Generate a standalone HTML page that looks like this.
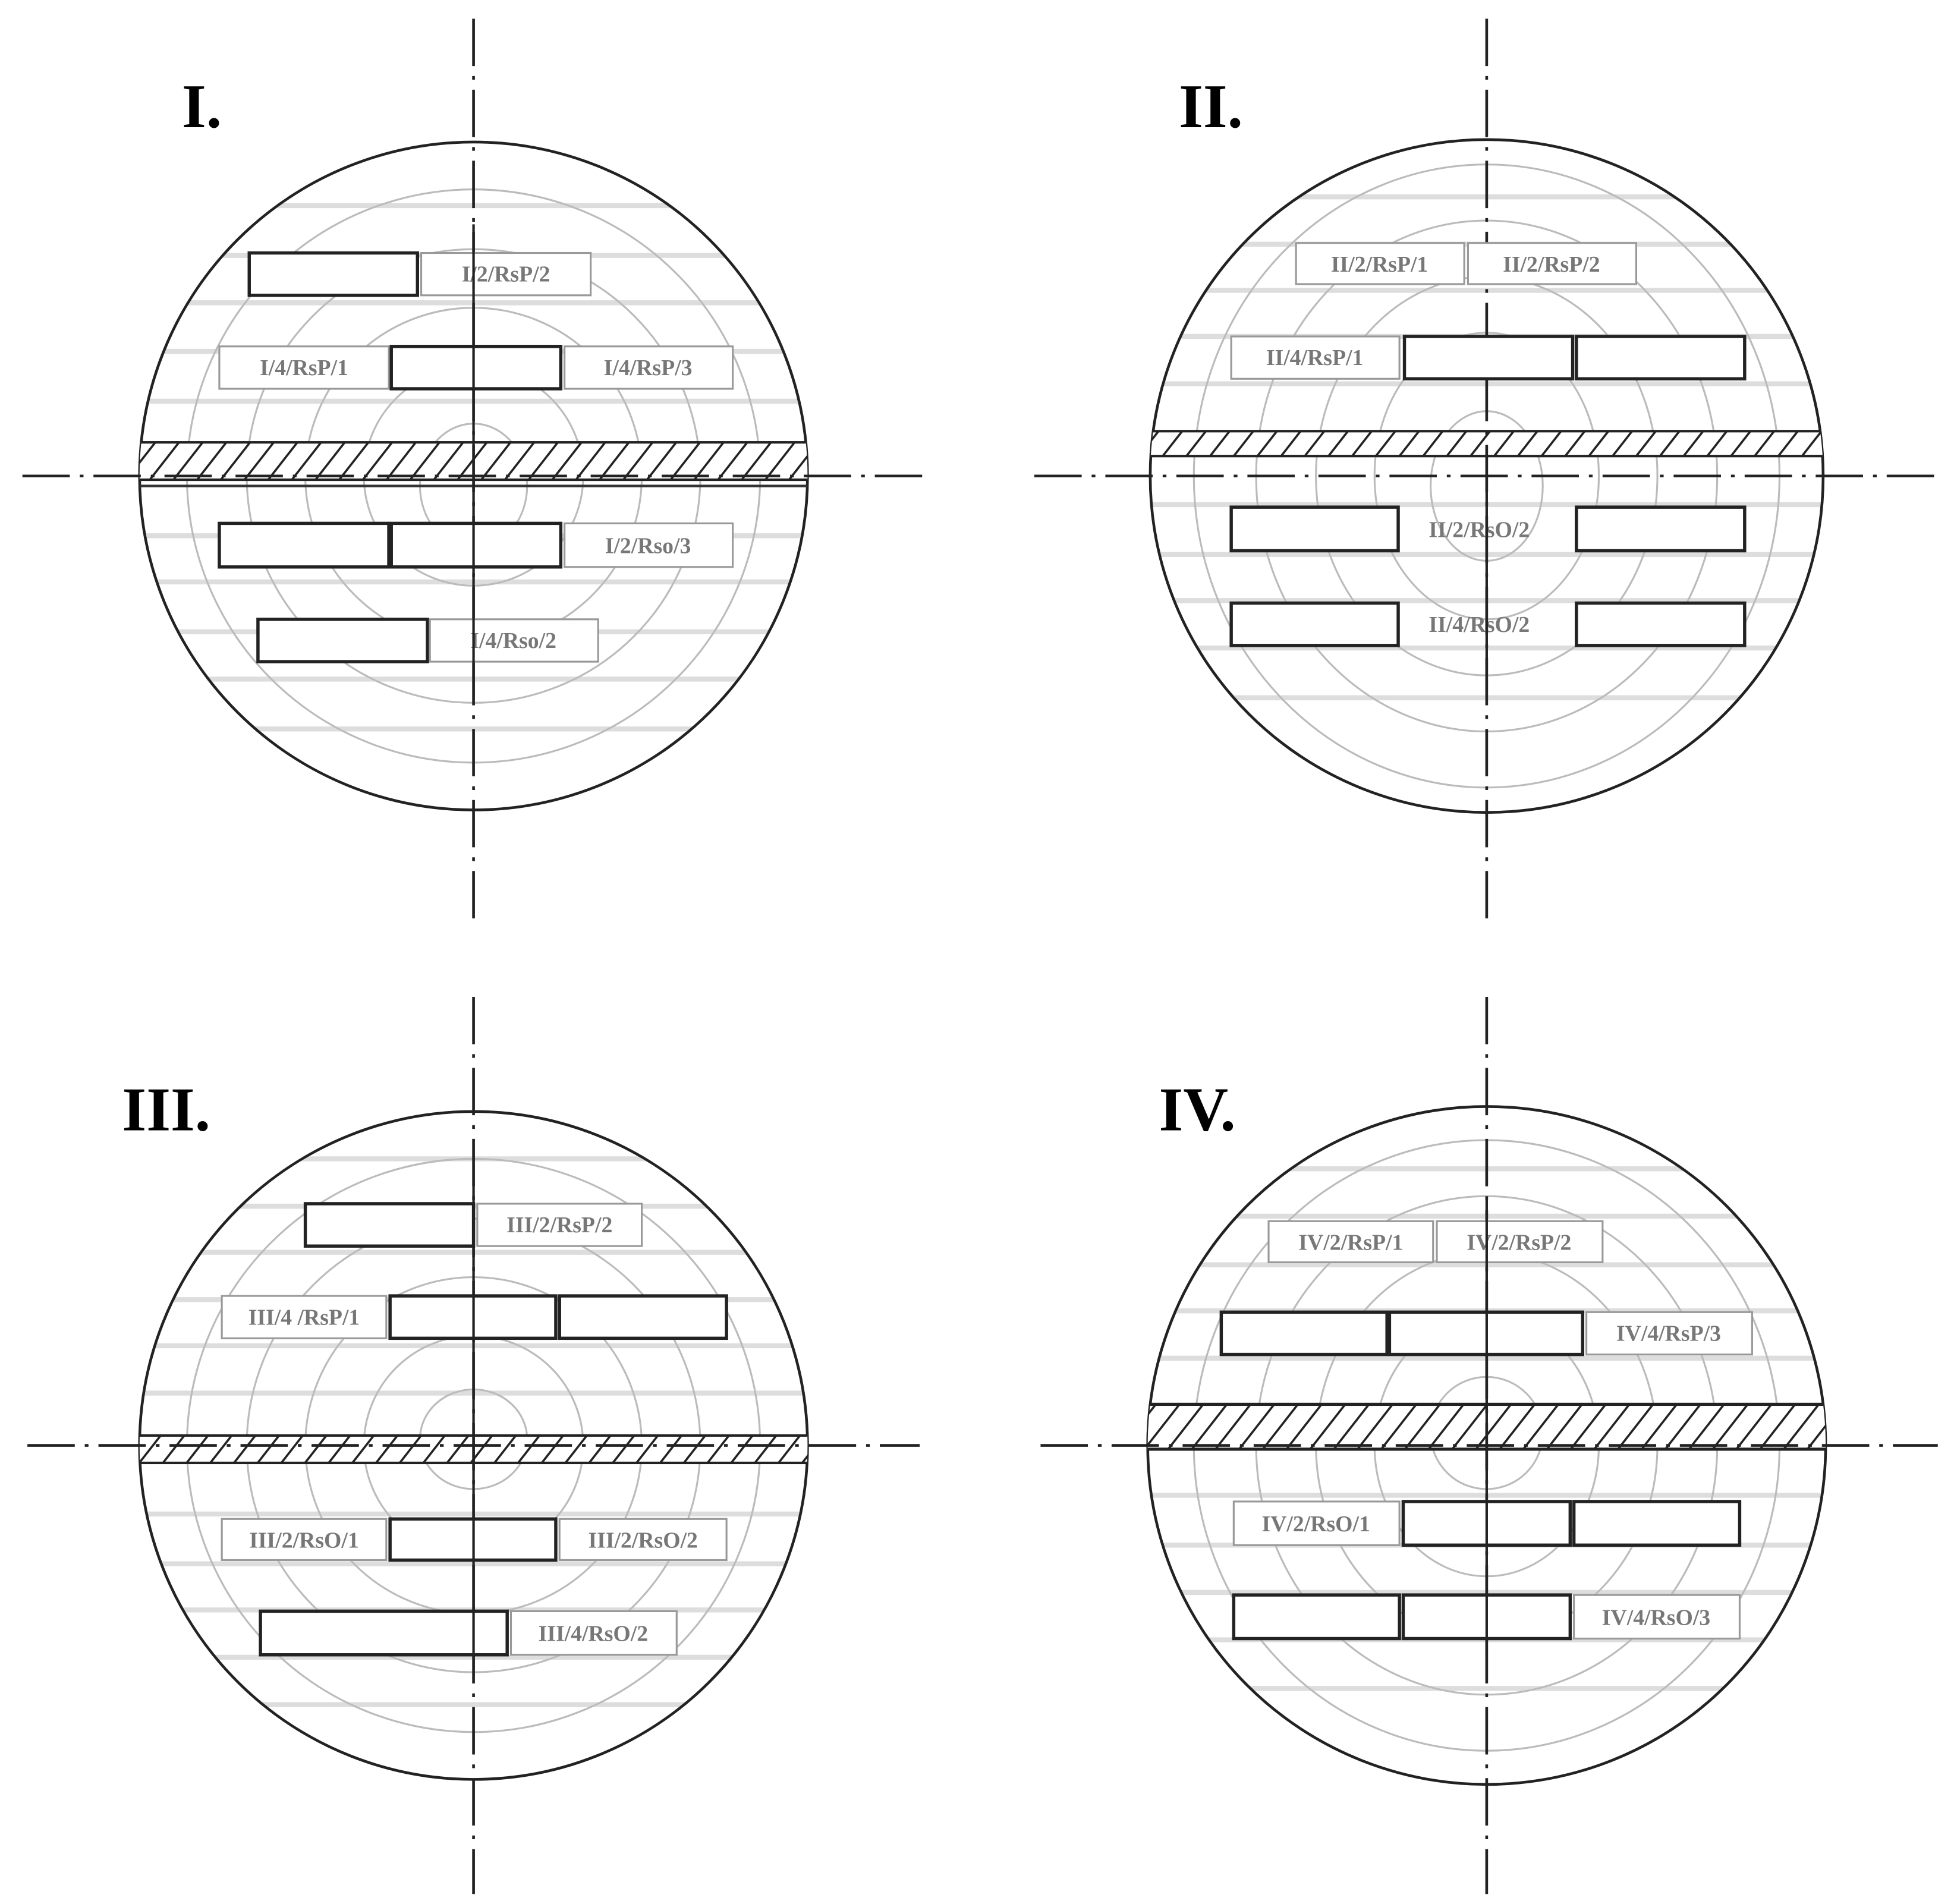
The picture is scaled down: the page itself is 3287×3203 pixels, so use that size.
<!DOCTYPE html>
<html><head><meta charset="utf-8"><style>html,body{margin:0;padding:0;background:#fff}svg{display:block}</style></head>
<body>
<svg width="3287" height="3203" viewBox="0 0 1568 1528" preserveAspectRatio="none" xmlns="http://www.w3.org/2000/svg">
<defs>
<pattern id="h" width="19" height="40" patternUnits="userSpaceOnUse" patternTransform="skewX(-38)">
<rect width="19" height="40" fill="#fff"/><line x1="3" y1="0" x2="3" y2="40" stroke="#222" stroke-width="2.2"/>
</pattern>
<clipPath id="c1"><circle cx="380" cy="382" r="268"/></clipPath>
<clipPath id="c2"><circle cx="1193" cy="382" r="270"/></clipPath>
<clipPath id="c3"><circle cx="380" cy="1160" r="268"/></clipPath>
<clipPath id="c4"><circle cx="1193" cy="1160" r="272"/></clipPath>
</defs>
<style>
.ax{stroke:#222;stroke-width:2.2;stroke-dasharray:38 8 3 8;fill:none}
.st{stroke:#ddd;stroke-width:4}
.rg{fill:none;stroke:#bbb;stroke-width:1.5}
.bk{fill:#fff;stroke:#222;stroke-width:2.6}
.lb{fill:#fff;stroke:#999;stroke-width:1.5}
.t{font-family:"Liberation Serif",serif;font-weight:bold;font-size:18px;fill:#777;text-anchor:middle}
.T{font-family:"Liberation Serif",serif;font-weight:bold;font-size:50px;fill:#000}
.oc{fill:none;stroke:#222;stroke-width:2.2}
</style>

<!-- Quadrant I -->
<g>
<g clip-path="url(#c1)">
<g class="st"><line x1="100" x2="660" y1="165" y2="165"/><line x1="100" x2="660" y1="205" y2="205"/><line x1="100" x2="660" y1="243" y2="243"/><line x1="100" x2="660" y1="282" y2="282"/><line x1="100" x2="660" y1="322" y2="322"/><line x1="100" x2="660" y1="430" y2="430"/><line x1="100" x2="660" y1="467" y2="467"/><line x1="100" x2="660" y1="507" y2="507"/><line x1="100" x2="660" y1="545" y2="545"/><line x1="100" x2="660" y1="585" y2="585"/></g>
</g>
<circle class="rg" cx="380" cy="382" r="230"/><circle class="rg" cx="380" cy="382" r="182"/><circle class="rg" cx="380" cy="382" r="135"/><circle class="rg" cx="380" cy="382" r="88"/><ellipse class="rg" cx="380" cy="390" rx="43" ry="50"/>
<circle class="oc" cx="380" cy="382" r="268"/>
<g clip-path="url(#c1)"><rect x="100" y="355" width="570" height="30" fill="url(#h)" stroke="#222" stroke-width="2"/><line x1="100" x2="670" y1="390" y2="390" stroke="#333" stroke-width="2"/></g>
<line class="ax" x1="380" y1="15" x2="380" y2="745"/><line class="ax" x1="18" y1="382" x2="748" y2="382"/>
<text class="T" x="146" y="102">I.</text>
<rect class="bk" x="200" y="203" width="135" height="34"/><rect class="lb" x="338" y="203" width="136" height="34"/><text class="t" x="406" y="226">I/2/RsP/2</text>
<rect class="lb" x="176" y="278" width="136" height="34"/><text class="t" x="244" y="301">I/4/RsP/1</text><rect class="bk" x="314" y="278" width="136" height="34"/><rect class="lb" x="453" y="278" width="135" height="34"/><text class="t" x="520" y="301">I/4/RsP/3</text>
<rect class="bk" x="176" y="420" width="136" height="35"/><rect class="bk" x="314" y="420" width="136" height="35"/><rect class="lb" x="453" y="420" width="135" height="35"/><text class="t" x="520" y="444">I/2/Rso/3</text>
<rect class="bk" x="207" y="497" width="136" height="34"/><rect class="lb" x="345" y="497" width="135" height="34"/><text class="t" x="412" y="520">I/4/Rso/2</text>
<line x1="380" y1="180" x2="380" y2="560" stroke="#222" stroke-width="2"/>
</g>

<!-- Quadrant II -->
<g>
<g clip-path="url(#c2)" class="st"><line x1="900" x2="1480" y1="158" y2="158"/><line x1="900" x2="1480" y1="196" y2="196"/><line x1="900" x2="1480" y1="233" y2="233"/><line x1="900" x2="1480" y1="270" y2="270"/><line x1="900" x2="1480" y1="308" y2="308"/><line x1="900" x2="1480" y1="405" y2="405"/><line x1="900" x2="1480" y1="445" y2="445"/><line x1="900" x2="1480" y1="482" y2="482"/><line x1="900" x2="1480" y1="520" y2="520"/><line x1="900" x2="1480" y1="560" y2="560"/></g>
<ellipse class="rg" cx="1193" cy="382" rx="235" ry="250"/><ellipse class="rg" cx="1193" cy="382" rx="185" ry="205"/><ellipse class="rg" cx="1193" cy="382" rx="137" ry="160"/><ellipse class="rg" cx="1193" cy="382" rx="90" ry="115"/><ellipse class="rg" cx="1193" cy="390" rx="45" ry="60"/>
<circle class="oc" cx="1193" cy="382" r="270"/>
<g clip-path="url(#c2)"><rect x="915" y="346" width="560" height="20" fill="url(#h)" stroke="#222" stroke-width="2"/></g>
<line class="ax" x1="1193" y1="15" x2="1193" y2="745"/><line class="ax" x1="830" y1="382" x2="1560" y2="382"/>
<text class="T" x="946" y="102">II.</text>
<rect class="lb" x="1040" y="195" width="135" height="33"/><text class="t" x="1107" y="218">II/2/RsP/1</text><rect class="lb" x="1178" y="195" width="135" height="33"/><text class="t" x="1245" y="218">II/2/RsP/2</text>
<rect class="lb" x="988" y="270" width="135" height="34"/><text class="t" x="1055" y="293">II/4/RsP/1</text><rect class="bk" x="1127" y="270" width="135" height="34"/><rect class="bk" x="1265" y="270" width="135" height="34"/>
<rect class="bk" x="988" y="407" width="134" height="35"/><text class="t" x="1187" y="431">II/2/RsO/2</text><rect class="bk" x="1265" y="407" width="135" height="35"/>
<rect class="bk" x="988" y="484" width="134" height="34"/><text class="t" x="1187" y="507">II/4/RsO/2</text><rect class="bk" x="1265" y="484" width="135" height="34"/>
<line x1="1193" y1="395" x2="1193" y2="560" stroke="#222" stroke-width="2"/>
</g>

<!-- Quadrant III -->
<g>
<g clip-path="url(#c3)" class="st"><line x1="100" x2="660" y1="930" y2="930"/><line x1="100" x2="660" y1="968" y2="968"/><line x1="100" x2="660" y1="1005" y2="1005"/><line x1="100" x2="660" y1="1043" y2="1043"/><line x1="100" x2="660" y1="1080" y2="1080"/><line x1="100" x2="660" y1="1118" y2="1118"/><line x1="100" x2="660" y1="1215" y2="1215"/><line x1="100" x2="660" y1="1255" y2="1255"/><line x1="100" x2="660" y1="1292" y2="1292"/><line x1="100" x2="660" y1="1330" y2="1330"/><line x1="100" x2="660" y1="1368" y2="1368"/></g>
<circle class="rg" cx="380" cy="1160" r="230"/><circle class="rg" cx="380" cy="1160" r="182"/><circle class="rg" cx="380" cy="1160" r="135"/><circle class="rg" cx="380" cy="1160" r="88"/><ellipse class="rg" cx="380" cy="1155" rx="43" ry="40"/>
<circle class="oc" cx="380" cy="1160" r="268"/>
<g clip-path="url(#c3)"><rect x="100" y="1152" width="570" height="22" fill="url(#h)" stroke="#222" stroke-width="2"/></g>
<line class="ax" x1="380" y1="800" x2="380" y2="1520"/><line class="ax" x1="22" y1="1160" x2="738" y2="1160"/>
<text class="T" x="98" y="907">III.</text>
<rect class="bk" x="245" y="966" width="135" height="34"/><rect class="lb" x="383" y="966" width="132" height="34"/><text class="t" x="449" y="989">III/2/RsP/2</text>
<rect class="lb" x="178" y="1040" width="132" height="34"/><text class="t" x="244" y="1063">III/4 /RsP/1</text><rect class="bk" x="313" y="1040" width="133" height="34"/><rect class="bk" x="449" y="1040" width="134" height="34"/>
<rect class="lb" x="178" y="1219" width="132" height="33"/><text class="t" x="244" y="1242">III/2/RsO/1</text><rect class="bk" x="313" y="1219" width="133" height="33"/><rect class="lb" x="449" y="1219" width="134" height="33"/><text class="t" x="516" y="1242">III/2/RsO/2</text>
<rect class="bk" x="209" y="1293" width="198" height="35"/><rect class="lb" x="410" y="1293" width="133" height="35"/><text class="t" x="476" y="1317">III/4/RsO/2</text>
<line x1="380" y1="950" x2="380" y2="1340" stroke="#222" stroke-width="2"/>
</g>

<!-- Quadrant IV -->
<g>
<g clip-path="url(#c4)" class="st"><line x1="900" x2="1480" y1="938" y2="938"/><line x1="900" x2="1480" y1="976" y2="976"/><line x1="900" x2="1480" y1="1015" y2="1015"/><line x1="900" x2="1480" y1="1052" y2="1052"/><line x1="900" x2="1480" y1="1090" y2="1090"/><line x1="900" x2="1480" y1="1200" y2="1200"/><line x1="900" x2="1480" y1="1240" y2="1240"/><line x1="900" x2="1480" y1="1278" y2="1278"/><line x1="900" x2="1480" y1="1316" y2="1316"/><line x1="900" x2="1480" y1="1355" y2="1355"/></g>
<ellipse class="rg" cx="1193" cy="1160" rx="235" ry="245"/><ellipse class="rg" cx="1193" cy="1160" rx="185" ry="200"/><ellipse class="rg" cx="1193" cy="1160" rx="137" ry="155"/><ellipse class="rg" cx="1193" cy="1160" rx="90" ry="105"/><ellipse class="rg" cx="1193" cy="1150" rx="45" ry="45"/>
<circle class="oc" cx="1193" cy="1160" r="272"/>
<g clip-path="url(#c4)"><rect x="915" y="1127" width="560" height="36" fill="url(#h)" stroke="#222" stroke-width="2.5"/></g>
<line class="ax" x1="1193" y1="800" x2="1193" y2="1520"/><line class="ax" x1="835" y1="1160" x2="1555" y2="1160"/>
<text class="T" x="930" y="907">IV.</text>
<rect class="lb" x="1018" y="980" width="132" height="33"/><text class="t" x="1084" y="1003">IV/2/RsP/1</text><rect class="lb" x="1153" y="980" width="133" height="33"/><text class="t" x="1219" y="1003">IV/2/RsP/2</text>
<rect class="bk" x="980" y="1053" width="133" height="34"/><rect class="bk" x="1115" y="1053" width="155" height="34"/><rect class="lb" x="1273" y="1053" width="133" height="34"/><text class="t" x="1339" y="1076">IV/4/RsP/3</text>
<rect class="lb" x="990" y="1205" width="133" height="35"/><text class="t" x="1056" y="1229">IV/2/RsO/1</text><rect class="bk" x="1126" y="1205" width="134" height="35"/><rect class="bk" x="1263" y="1205" width="133" height="35"/>
<rect class="bk" x="990" y="1280" width="133" height="35"/><rect class="bk" x="1126" y="1280" width="134" height="35"/><rect class="lb" x="1263" y="1280" width="133" height="35"/><text class="t" x="1329" y="1304">IV/4/RsO/3</text>
<line x1="1193" y1="960" x2="1193" y2="1330" stroke="#222" stroke-width="2"/>
</g>
</svg>
</body></html>
